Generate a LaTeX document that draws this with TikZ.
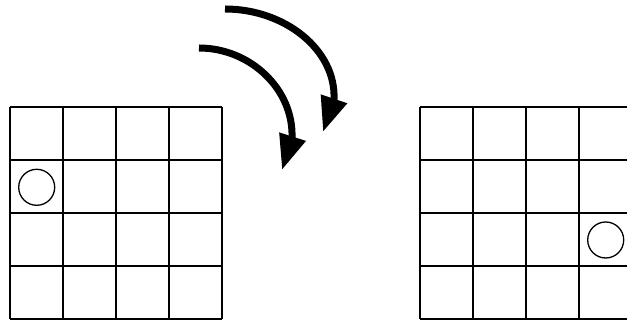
\documentclass[tikz,border=0pt]{standalone}
\usetikzlibrary{arrows.meta}
\begin{document}
\begin{tikzpicture}
\useasboundingbox (0pt,0pt) rectangle (627pt,323pt);
\draw[line width=1.8pt, shift={(10pt,4pt)}] (0pt,0pt) grid[step=53pt] (212pt,212pt);
\draw[line width=1.8pt, shift={(420pt,4pt)}] (0pt,0pt) grid[step=53pt] (212pt,212pt);
\draw[line width=1.3pt] (36.7pt,135.7pt) circle (18pt);
\draw[line width=1.3pt] (605.7pt,83pt) circle (18pt);
\coordinate (outerstart) at (225pt,314pt);
\coordinate (outerbase) at (334pt,224pt);
\coordinate (outertip) at (323pt,191pt);
\coordinate (innerstart) at (199pt,275pt);
\coordinate (innerbase) at (292pt,184.5pt);
\coordinate (innertip) at (282pt,153pt);
\draw[line width=7pt, -{Triangle[width=26pt,length=35pt]}] (outerstart) .. controls (285pt,314pt) and (336pt,273pt) .. (outerbase) -- (outertip);
\draw[line width=7pt, -{Triangle[width=26pt,length=35pt]}] (innerstart) .. controls (250pt,275pt) and (294pt,234pt) .. (innerbase) -- (innertip);
\end{tikzpicture}
\end{document}
